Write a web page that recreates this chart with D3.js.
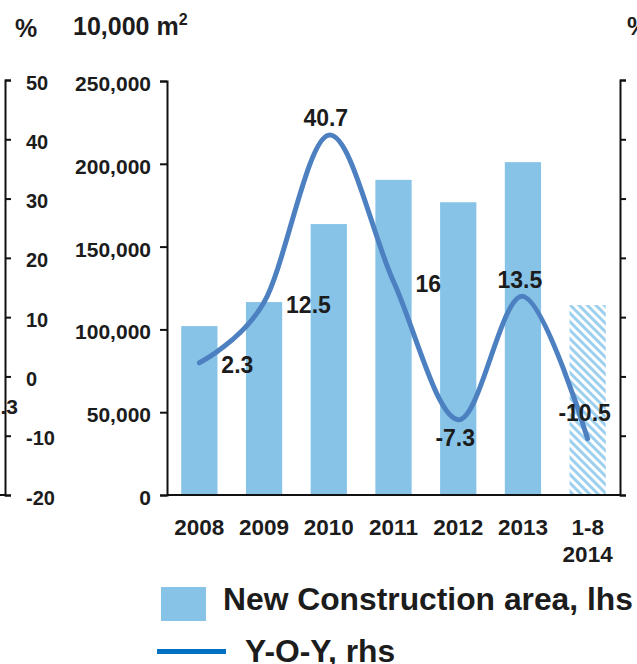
<!DOCTYPE html>
<html><head><meta charset="utf-8">
<script src="https://cdn.jsdelivr.net/npm/d3@7/dist/d3.min.js"></script>
<style>
body{margin:0;background:#fff;overflow:hidden;}
svg{display:block;}
text{font-family:"Liberation Sans",Arial,Helvetica,sans-serif;font-weight:bold;fill:#1c1c1c;}
</style>
</head><body>
<svg id="c" width="637" height="664"></svg>
<script>
// ---- data ----
const categories = ["2008","2009","2010","2011","2012","2013","1-8 2014"];
const areaValues = [102000,116500,163600,190300,176800,201000,114700];
const partialYear = [false,false,false,false,false,false,true];
const yoyValues = [2.3,12.5,40.7,16,-7.3,13.5,-10.5];
const areaTicks = [0,50000,100000,150000,200000,250000];
const pctTicks = [-20,-10,0,10,20,30,40,50];
const seriesNames = ["New Construction area, lhs","Y-O-Y, rhs"];
// label placement (style)
const labelPlace = ["right","right","above","right","below","above","above2"];

// ---- style ----
const barColor = "#87c3e7";
const lineColor = "#4d80c0";
const legendLineColor = "#0070c0";
const axisColor = "#111";
const hyphen = s => String(s).replace("\u2212","-");

const svg = d3.select("#c");
const defs = svg.append("defs");
const pat = defs.append("pattern").attr("id","hatch").attr("patternUnits","userSpaceOnUse")
  .attr("width",6).attr("height",6).attr("patternTransform","rotate(-45)");
pat.append("rect").attr("width",6).attr("height",6).attr("fill","#fff");
pat.append("rect").attr("width",3).attr("height",6).attr("fill","#9dd0ef");

const x = d3.scaleBand().domain(categories).range([167,620]).paddingInner(0.44).paddingOuter(0.22);
const yArea = d3.scaleLinear().domain([0,250000]).range([495,81]);
const yPct = d3.scaleLinear().domain([-20,50]).range([495,80]);

// bars
svg.append("g").selectAll("rect").data(categories).join("rect")
  .attr("x",d=>x(d)).attr("width",x.bandwidth())
  .attr("y",(d,i)=>yArea(areaValues[i]))
  .attr("height",(d,i)=>yArea(0)-yArea(areaValues[i]))
  .attr("fill",(d,i)=>partialYear[i]?"url(#hatch)":barColor);

function styleAxis(g){
  g.selectAll("path,line").attr("stroke",axisColor).attr("stroke-width",2);
  g.selectAll("text").attr("fill","#1c1c1c").style("font-family",'"Liberation Sans",Arial,sans-serif').style("font-weight","bold");
}

// main left axis
const gL = svg.append("g").attr("transform","translate(167,0)")
  .call(d3.axisLeft(yArea).tickValues(areaTicks).tickSize(7).tickPadding(9).tickFormat(d3.format(",")));
styleAxis(gL);
gL.selectAll("text").style("font-size","21px").attr("dy","0.45em");

// partial axis at left (previous panel's rhs)
const gP = svg.append("g").attr("transform","translate(5,0)")
  .call(d3.axisRight(yPct).tickValues(pctTicks).tickSize(6).tickPadding(15).tickFormat(d=>hyphen(d)));
styleAxis(gP);
gP.selectAll("text").style("font-size","20px").attr("dy","0.45em");
svg.append("line").attr("x1",0).attr("x2",6).attr("y1",yPct(-20)).attr("y2",yPct(-20))
  .attr("stroke",axisColor).attr("stroke-width",2);
svg.append("text").attr("x",18).attr("y",yPct(-5)).attr("dy","0.4em").attr("text-anchor","end")
  .style("font-size","21px").text(".3");

// right axis (labels fall outside the picture)
const gR = svg.append("g").attr("transform","translate(620,0)")
  .call(d3.axisRight(yPct).tickValues(pctTicks).tickSize(6).tickFormat(""));
styleAxis(gR);

// x axis baseline
svg.append("line").attr("x1",167).attr("x2",620).attr("y1",yArea(0)).attr("y2",yArea(0))
  .attr("stroke",axisColor).attr("stroke-width",2);

// category labels
const xl = svg.append("g").selectAll("text").data(categories).join("text")
  .attr("x",d=>x(d)+x.bandwidth()/2).attr("y",535).attr("text-anchor","middle")
  .style("font-size","22.5px");
xl.each(function(d){
  const parts = d.split(" ");
  const t = d3.select(this);
  parts.forEach((p,k)=>t.append("tspan").attr("x",x(d)+x.bandwidth()/2).attr("dy",k?27:0).text(p));
});

// line
const cx = i => x(categories[i]) + x.bandwidth()/2;
const line = d3.line().x((d,i)=>cx(i)).y(d=>yPct(d)).curve(d3.curveCardinal.tension(0));
svg.append("path").attr("d",line(yoyValues)).attr("fill","none").attr("stroke",lineColor)
  .attr("stroke-width",5).attr("stroke-linecap","round");

// data labels
svg.append("g").selectAll("text").data(yoyValues).join("text")
  .style("font-size","23px")
  .attr("text-anchor",(d,i)=>labelPlace[i]==="right"?"start":"middle")
  .attr("x",(d,i)=>labelPlace[i]==="right"?cx(i)+22:cx(i)-3)
  .attr("y",(d,i)=>{
    const p=labelPlace[i], y=yPct(d);
    if(p==="right") return y+2;
    if(p==="above") return y-17;
    if(p==="above2") return y-26;
    return y+18;
  })
  .attr("dy","0.36em")
  .text(d=>String(d));

// titles
svg.append("text").attr("x",15).attr("y",37).style("font-size","25px").text("%");
const t2 = svg.append("text").attr("x",73).attr("y",35).style("font-size","25px");
t2.append("tspan").text("10,000 m");
t2.append("tspan").attr("dy",-10).style("font-size","16px").text("2");
svg.append("text").attr("x",627).attr("y",35).style("font-size","25px").text("%");

// legend
svg.append("rect").attr("x",161).attr("y",587).attr("width",45).attr("height",34).attr("fill",barColor);
svg.append("text").attr("x",223).attr("y",610).style("font-size","31.8px").text(seriesNames[0]);
svg.append("line").attr("x1",157).attr("x2",226).attr("y1",651.5).attr("y2",651.5)
  .attr("stroke",legendLineColor).attr("stroke-width",5);
svg.append("text").attr("x",245).attr("y",662).style("font-size","31.8px").text(seriesNames[1]);
</script>
</body></html>
